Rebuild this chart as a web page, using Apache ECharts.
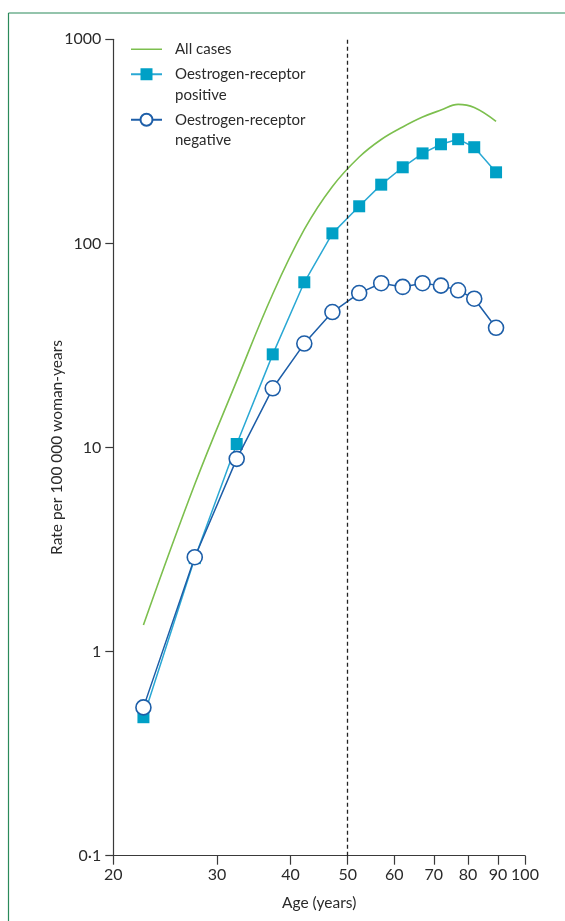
<!DOCTYPE html>
<html>
<head>
<meta charset="utf-8">
<script src="https://cdn.jsdelivr.net/npm/echarts@6/dist/echarts.min.js"></script>
<style>
  html, body { margin: 0; padding: 0; background: #fff; }
  #chart { width: 565px; height: 921px; }
</style>
</head>
<body>
<div id="chart"></div>
<script>
// Age group positions (years)
const ages = [22.5, 27.5, 32.4, 37.3, 42.2, 47.1, 52.3, 57, 62, 67, 72, 77, 82, 89.3];
// Rates per 100 000 woman-years
const allCases = [1.35, 6.6, 21.2, 56.5, 117, 190, 265, 323, 372, 416, 450, 480, 463, 396];
const erPositive = [0.477, 2.87, 10.4, 28.6, 64.5, 112, 152, 194, 236, 276, 306, 324, 296, 223];
const erNegative = [0.533, 2.9, 8.8, 19.5, 32.3, 46.1, 57.1, 63.8, 61.2, 63.8, 62.1, 58.9, 53.6, 38.6];
const xTicks = [20, 30, 40, 50, 60, 70, 80, 90, 100];
const yTicks = [0.1, 1, 10, 100, 1000];
const menopauseAge = 50;
const seriesNames = ['All cases', 'Oestrogen-receptor\npositive', 'Oestrogen-receptor\nnegative'];

const pairs = (vals) => ages.map((a, i) => [a, vals[i]]);
const FONT = 'Lato';
const TXT = '#2a2a2a';
const AX = '#3a3a3a';

const chart = echarts.init(document.getElementById('chart'), null, { renderer: 'canvas' });
chart.setOption({
  animation: false,
  backgroundColor: '#fff',
  graphic: [
    { type: 'line', shape: { x1: 8.5, y1: 13, x2: 565, y2: 13 }, style: { stroke: '#2b8a5a', lineWidth: 1.2 } },
    { type: 'line', shape: { x1: 8.5, y1: 13, x2: 8.5, y2: 921 }, style: { stroke: '#2b8a5a', lineWidth: 1.2 } }
  ],
  grid: { left: 113.3, right: 40, top: 39.3, bottom: 65.3, containLabel: false },
  legend: {
    orient: 'vertical',
    left: 130,
    top: 39,
    padding: 0,
    itemWidth: 31,
    itemHeight: 15,
    itemGap: -16,
    selectedMode: false,
    data: [
      { name: seriesNames[0], icon: 'path://M0,0H31V1.5H0Z' },
      { name: seriesNames[1] },
      { name: seriesNames[2] }
    ],
    formatter: (n) => n.indexOf('\n') >= 0 ? '\n' + n : n,
    textStyle: { fontFamily: FONT, fontSize: 15, lineHeight: 20.5, color: TXT, padding: [0, 0, 0, 8] }
  },
  xAxis: {
    type: 'log',
    logBase: 10,
    min: 20,
    max: 100,
    name: 'Age (years)',
    nameLocation: 'middle',
    nameGap: 39,
    nameMoveOverlap: false,
    nameTextStyle: { fontFamily: FONT, fontSize: 15.5, color: TXT },
    axisLine: { show: true, lineStyle: { color: AX, width: 1.2 } },
    axisTick: { show: true, customValues: xTicks, length: 9, lineStyle: { color: AX, width: 1.2 } },
    axisLabel: { customValues: xTicks, margin: 11, fontFamily: FONT, fontSize: 16, color: TXT },
    splitLine: { show: false },
    minorTick: { show: false }
  },
  yAxis: {
    type: 'log',
    logBase: 10,
    min: 0.1,
    max: 1000,
    name: 'Rate per 100 000 woman-years',
    nameLocation: 'middle',
    nameGap: 48,
    nameMoveOverlap: false,
    nameTextStyle: { fontFamily: FONT, fontSize: 15.5, color: TXT },
    axisLine: { show: true, lineStyle: { color: AX, width: 1.2 } },
    axisTick: { show: true, customValues: yTicks, length: 8, lineStyle: { color: AX, width: 1.2 } },
    axisLabel: {
      customValues: yTicks, margin: 12, fontFamily: FONT, fontSize: 16, color: TXT,
      formatter: (v) => String(v).replace('.', '·')
    },
    splitLine: { show: false },
    minorTick: { show: false }
  },
  series: [
    {
      name: seriesNames[0],
      type: 'line',
      data: pairs(allCases),
      smooth: 0.4,
      symbol: 'none',
      showSymbol: false,
      color: '#7cbf4e',
      lineStyle: { color: '#7cbf4e', width: 1.6 },
      z: 2,
      markLine: {
        silent: true,
        symbol: 'none',
        label: { show: false },
        lineStyle: { color: '#222', width: 1.3, type: [4, 3] },
        data: [{ xAxis: menopauseAge }]
      }
    },
    {
      name: seriesNames[1],
      type: 'line',
      data: pairs(erPositive),
      symbol: 'rect',
      symbolSize: 12,
      color: '#00a0c6',
      itemStyle: { color: '#00a0c6' },
      lineStyle: { color: '#2aa8d4', width: 1.5 },
      z: 3
    },
    {
      name: seriesNames[2],
      type: 'line',
      data: pairs(erNegative),
      symbol: 'circle',
      symbolSize: 15,
      color: '#1d5ea8',
      itemStyle: { color: '#ffffff', borderColor: '#1d5ea8', borderWidth: 1.6 },
      lineStyle: { color: '#1d5ea8', width: 1.5 },
      z: 4
    }
  ]
});
</script>
</body>
</html>
